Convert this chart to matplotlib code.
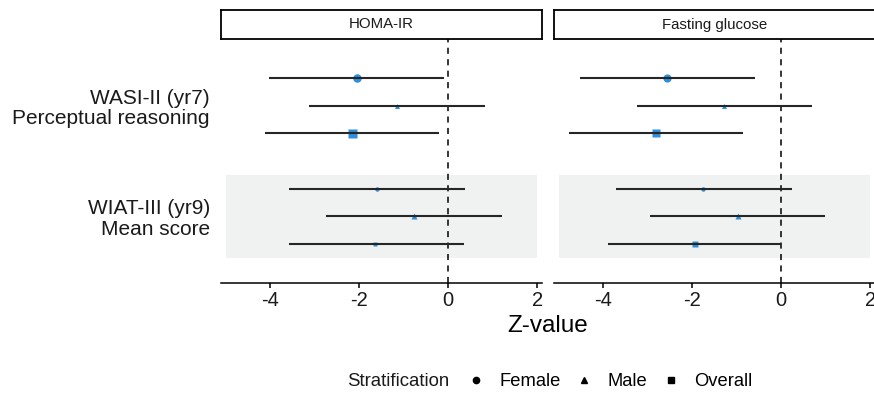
import numpy as np
import matplotlib.pyplot as plt
from matplotlib.lines import Line2D
from matplotlib.patches import Rectangle

plt.rcParams['font.family'] = ['Liberation Sans', 'DejaVu Sans']

outcomes = ['WASI-II (yr7)\nPerceptual reasoning', 'WIAT-III (yr9)\nMean score']
exposures = ['HOMA-IR', 'Fasting glucose']
strata = ['Female', 'Male', 'Overall']
shapes = ['o', '^', 's']

# z-values, rows = outcome, cols = Female / Male / Overall
homa_z = [[-2.05, -1.15, -2.16], [-1.61, -0.76, -1.64]]
homa_lo = [[-4.02, -3.12, -4.13], [-3.59, -2.75, -3.59]]
homa_hi = [[-0.09, 0.82, -0.20], [0.37, 1.21, 0.35]]
homa_size = [[8.5, 5.0, 9.0], [4.5, 6.0, 5.0]]

gluc_z = [[-2.56, -1.28, -2.82], [-1.75, -0.98, -1.94]]
gluc_lo = [[-4.53, -3.25, -4.77], [-3.71, -2.96, -3.90]]
gluc_hi = [[-0.59, 0.69, -0.86], [0.24, 0.99, 0.00]]
gluc_size = [[8.2, 5.0, 8.5], [4.5, 6.5, 5.5]]

panels = [(homa_z, homa_lo, homa_hi, homa_size),
          (gluc_z, gluc_lo, gluc_hi, gluc_size)]

point_col = '#2F8FD8'
line_col = '#262626'
shade_col = '#F0F1F1'

fig = plt.figure(figsize=(8.74, 3.93), dpi=100)

W, H = 874, 393
def fx(px): return px / W
def fy(py): return 1 - py / H

lefts = [221, 554]
pw = 321
top, bottom = 39, 283
strip_top = 10

ypos = [2, 1]           # outcome positions (top to bottom)
offs = [0.25, 0, -0.25]  # Female, Male, Overall

for k, (z, lo, hi, sz) in enumerate(panels):
    ax = fig.add_axes([fx(lefts[k]), fy(bottom), pw / W, (bottom - top) / H])
    ax.set_xlim(-5.11, 2.11)
    ax.set_ylim(0.4, 2.6)
    # shaded band for 2nd outcome
    ax.add_patch(Rectangle((-5, ypos[1] - 0.375), 7, 0.75, facecolor=shade_col,
                           edgecolor='none', zorder=0))
    ax.axvline(0, color='black', ls=(0, (4, 3.5)), lw=1.1, zorder=1)
    for i in range(len(outcomes)):
        for j in range(len(strata)):
            y = ypos[i] + offs[j]
            ax.plot(z[i][j], y, marker=shapes[j], ms=sz[i][j] * 0.72,
                    color=point_col, ls='none', mec='none', zorder=2)
            ax.plot([lo[i][j], hi[i][j]], [y, y], color=line_col, lw=1.5,
                    solid_capstyle='butt', zorder=3)
    for s in ['top', 'right', 'left']:
        ax.spines[s].set_visible(False)
    ax.spines['bottom'].set_linewidth(1.1)
    ax.set_xticks([-4, -2, 0, 2])
    ax.set_xticklabels(['-4', '-2', '0', '2'])
    ax.tick_params(axis='x', length=3.5, width=1.1, labelsize=14.5, pad=2,
                   colors='black', labelcolor='#1a1a1a')
    ax.set_facecolor('none')
    if k == 0:
        ax.set_yticks(ypos)
        ax.set_yticklabels(outcomes, fontsize=15, color='#1a1a1a',
                           linespacing=1.1)
        ax.tick_params(axis='y', length=0, pad=8)
    else:
        ax.set_yticks([])

    sax = fig.add_axes([fx(lefts[k]), fy(top), pw / W, (top - strip_top) / H])
    sax.set_xticks([])
    sax.set_yticks([])
    for s in sax.spines.values():
        s.set_linewidth(1.3)
        s.set_color('black')
    sax.text(0.5, 0.5, exposures[k], ha='center', va='center',
             fontsize=10.8, color='#1a1a1a', transform=sax.transAxes)

fig.text(fx(548), fy(326), 'Z-value', ha='center', va='center', fontsize=17.5,
         color='black')

fig.text(fx(347), fy(382), 'Stratification', ha='left', va='center',
         fontsize=13.4, color='#1a1a1a')
handles = [Line2D([], [], marker=m, color='black', ls='none', ms=4.5)
           for m in shapes]
fig.legend(handles, strata, loc='center left', ncol=3, frameon=False,
           bbox_to_anchor=(fx(467), fy(382)), fontsize=13.2, handlelength=1.0,
           handletextpad=0.75, columnspacing=0.8, borderpad=0,
           borderaxespad=0)

fig.savefig('out.png', dpi=100)
